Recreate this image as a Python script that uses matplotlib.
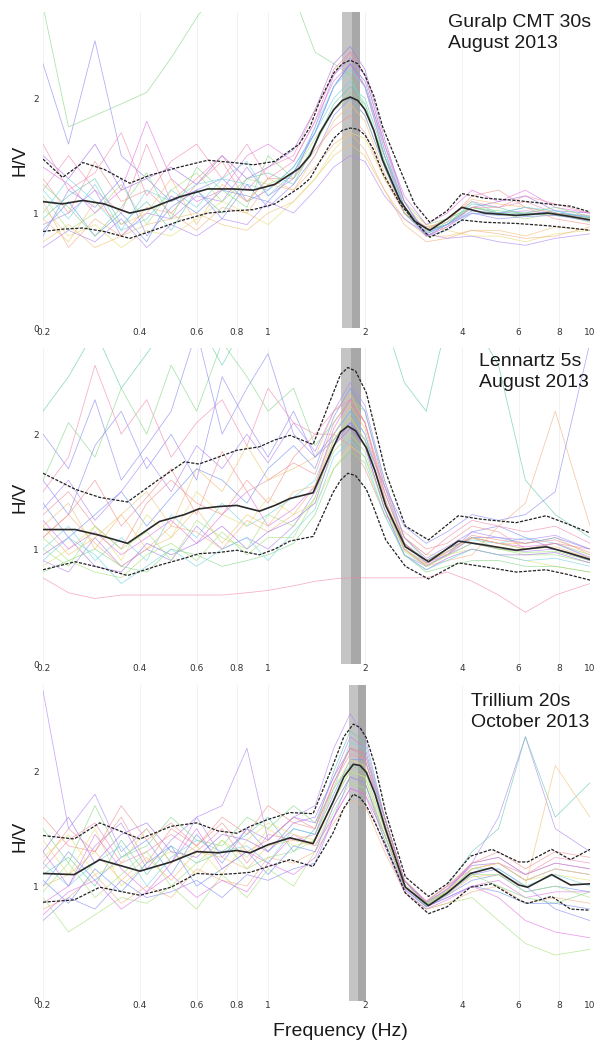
import numpy as np
import matplotlib
matplotlib.use('Agg')
import matplotlib.pyplot as plt

# common frequency grid of the single-window curves (Hz)
win_freq = [0.2, 0.24, 0.29, 0.35, 0.42, 0.5, 0.6, 0.72, 0.86, 1.0, 1.2, 1.4,
            1.6, 1.8, 2.0, 2.3, 2.65, 3.1, 3.6, 4.3, 5.2, 6.3, 7.8, 10.0]

# ---- Guralp CMT 30s ----
gur_freq = [0.2, 0.23, 0.266, 0.31, 0.372, 0.43, 0.53, 0.65, 0.78, 0.9, 1.05, 1.25, 1.35,
            1.45, 1.6, 1.7, 1.8, 1.9, 2.0, 2.13, 2.27, 2.57, 2.85, 3.18, 3.6, 4.0, 4.7, 5.9,
            7.4, 8.7, 10.0]
gur_mean = [1.10, 1.08, 1.11, 1.08, 1.00, 1.04, 1.14, 1.21, 1.21, 1.20, 1.25, 1.39, 1.50,
            1.70, 1.90, 1.98, 2.01, 1.98, 1.90, 1.72, 1.46, 1.11, 0.93, 0.85, 0.95, 1.05, 1.00,
            0.98, 1.00, 0.97, 0.94]
gur_upper = [1.47, 1.31, 1.44, 1.38, 1.26, 1.33, 1.40, 1.46, 1.44, 1.42, 1.45, 1.60, 1.75,
             1.98, 2.22, 2.30, 2.33, 2.30, 2.20, 2.02, 1.75, 1.38, 1.08, 0.92, 1.02, 1.17, 1.13,
             1.11, 1.08, 1.06, 1.01]
gur_lower = [0.84, 0.86, 0.87, 0.84, 0.78, 0.84, 0.93, 1.00, 1.02, 1.03, 1.08, 1.22, 1.30,
             1.45, 1.65, 1.72, 1.74, 1.73, 1.68, 1.55, 1.35, 1.08, 0.93, 0.79, 0.86, 0.94, 0.92,
             0.91, 0.89, 0.87, 0.85]
gur_windows = [
    [2.8, 1.75, 1.85, 1.95, 2.05, 2.35, 2.7, 3.0, 3.1, 3.1, 2.9, 2.4, 2.3, 2.2, 1.9, 1.5, 1.1, 0.9, 0.95, 1.05, 1.0, 1.0, 0.98, 0.95],
    [2.3, 1.6, 2.5, 1.5, 1.3, 1.1, 1.2, 1.3, 1.1, 1.2, 1.4, 1.7, 2.1, 2.3, 2.1, 1.5, 1.0, 0.8, 0.9, 1.05, 1.0, 1.05, 1.0, 0.95],
    [1.2, 1.5, 1.2, 1.0, 1.6, 1.1, 1.3, 1.5, 1.2, 1.4, 1.5, 1.9, 2.2, 2.4, 2.1, 1.5, 1.05, 0.85, 0.95, 1.1, 1.05, 1.1, 1.0, 0.98],
    [0.75, 0.9, 0.7, 0.8, 0.9, 0.95, 1.0, 0.9, 0.85, 1.0, 1.1, 1.3, 1.5, 1.6, 1.5, 1.2, 0.95, 0.8, 0.8, 0.85, 0.85, 0.8, 0.88, 0.85],
    [1.0, 1.3, 1.1, 0.85, 0.95, 1.2, 1.05, 1.3, 1.25, 1.2, 1.4, 1.7, 2.0, 2.15, 1.95, 1.45, 1.0, 0.82, 0.9, 1.1, 1.0, 0.98, 1.02, 0.95],
    [0.9, 1.0, 1.2, 0.8, 1.0, 0.95, 1.15, 1.1, 1.4, 1.15, 1.3, 1.75, 2.2, 2.35, 2.2, 1.6, 1.1, 0.8, 0.88, 1.02, 1.0, 1.02, 1.0, 0.96],
    [1.15, 0.85, 1.0, 1.25, 0.9, 1.2, 1.35, 1.1, 1.3, 1.25, 1.35, 1.65, 1.9, 2.0, 1.85, 1.4, 1.0, 0.86, 0.95, 1.05, 1.0, 0.95, 1.0, 0.92],
    [1.3, 1.0, 1.45, 1.1, 1.2, 1.0, 1.25, 1.45, 1.1, 1.3, 1.3, 1.55, 1.75, 1.85, 1.7, 1.3, 1.0, 0.88, 0.92, 1.15, 1.2, 1.05, 0.95, 0.9],
    [0.85, 1.1, 0.8, 1.0, 0.75, 1.15, 1.0, 1.2, 1.15, 1.1, 1.35, 1.7, 2.1, 2.3, 2.15, 1.55, 1.05, 0.8, 0.85, 1.0, 0.98, 1.0, 1.0, 0.97],
    [1.05, 0.8, 0.9, 0.7, 0.85, 0.8, 0.95, 1.1, 1.0, 0.9, 1.1, 1.3, 1.55, 1.7, 1.65, 1.3, 1.05, 0.9, 0.85, 0.8, 0.8, 0.75, 0.82, 0.85],
    [1.4, 1.25, 1.0, 1.2, 1.8, 1.3, 1.1, 1.2, 1.5, 1.6, 1.45, 1.8, 2.15, 2.3, 2.1, 1.6, 1.15, 0.9, 1.0, 1.2, 1.1, 1.2, 1.05, 1.0],
    [0.95, 1.15, 1.3, 0.9, 1.1, 0.85, 1.2, 1.0, 1.3, 1.35, 1.25, 1.6, 1.95, 2.1, 2.0, 1.5, 1.05, 0.85, 0.9, 1.08, 1.05, 0.98, 1.0, 0.96],
    [1.1, 0.7, 0.95, 0.8, 1.05, 1.0, 0.85, 1.05, 1.0, 1.25, 1.2, 1.4, 1.6, 1.7, 1.55, 1.2, 0.9, 0.75, 0.78, 0.85, 0.82, 0.78, 0.8, 0.88],
    [1.5, 1.3, 1.6, 1.2, 1.3, 1.4, 1.25, 1.5, 1.3, 1.4, 1.55, 1.9, 2.3, 2.45, 2.25, 1.65, 1.1, 0.82, 0.9, 1.05, 1.1, 1.15, 1.02, 1.0],
    [1.25, 1.05, 0.8, 1.05, 1.35, 0.95, 1.4, 1.2, 1.05, 1.5, 1.3, 1.6, 1.9, 2.05, 1.95, 1.45, 1.0, 0.83, 0.92, 1.05, 1.02, 1.0, 1.05, 0.97],
    [0.8, 1.2, 1.05, 1.3, 0.8, 1.05, 1.2, 0.95, 1.25, 1.05, 1.25, 1.5, 1.85, 2.0, 1.85, 1.4, 1.0, 0.84, 0.9, 1.0, 0.95, 0.97, 0.98, 0.93],
    [1.6, 1.2, 1.35, 1.7, 1.15, 1.45, 1.6, 1.3, 1.6, 1.3, 1.45, 1.8, 2.25, 2.4, 2.2, 1.6, 1.05, 0.8, 0.88, 1.05, 1.05, 1.15, 1.08, 1.0],
    [0.95, 0.75, 1.1, 0.9, 1.0, 1.3, 0.9, 1.25, 1.1, 1.3, 1.2, 1.5, 1.8, 1.95, 1.8, 1.35, 1.0, 0.86, 0.95, 1.12, 1.08, 1.05, 1.0, 0.95],
    [1.2, 0.95, 1.25, 0.85, 1.2, 1.1, 1.25, 1.3, 1.45, 1.15, 1.35, 1.75, 2.1, 2.25, 2.1, 1.55, 1.05, 0.82, 0.9, 1.02, 1.0, 1.05, 1.02, 0.96],
    [0.7, 0.85, 0.75, 0.95, 0.7, 0.9, 0.8, 0.95, 0.9, 1.1, 1.0, 1.2, 1.4, 1.5, 1.45, 1.15, 0.95, 0.82, 0.78, 0.8, 0.75, 0.72, 0.78, 0.82],
]
gur_band = [1.70, 1.82, 1.93]

# ---- Lennartz 5s ----
len_freq = [0.2, 0.252, 0.30, 0.366, 0.46, 0.55, 0.61, 0.70, 0.80, 0.94, 1.05, 1.17, 1.38,
            1.59, 1.68, 1.77, 1.87, 2.02, 2.15, 2.32, 2.67, 3.15, 3.9, 4.6, 5.9, 7.3, 8.5, 10.0]
len_mean = [1.17, 1.17, 1.12, 1.05, 1.24, 1.30, 1.35, 1.37, 1.38, 1.33, 1.38, 1.44, 1.49,
            1.88, 2.02, 2.07, 2.03, 1.88, 1.68, 1.38, 1.02, 0.89, 1.07, 1.04, 0.99, 1.02, 0.97, 0.91]
len_upper = [1.66, 1.52, 1.45, 1.41, 1.61, 1.76, 1.74, 1.80, 1.86, 1.89, 1.95, 1.99, 1.91,
             2.35, 2.52, 2.58, 2.55, 2.36, 2.05, 1.67, 1.20, 1.08, 1.29, 1.26, 1.23, 1.29, 1.22, 1.14]
len_lower = [0.82, 0.89, 0.84, 0.77, 0.86, 0.92, 0.96, 0.97, 0.99, 0.95, 1.00, 1.07, 1.11,
             1.49, 1.60, 1.66, 1.64, 1.52, 1.33, 1.08, 0.85, 0.74, 0.88, 0.85, 0.80, 0.82, 0.78, 0.73]
len_windows = [
    [1.6, 2.1, 1.8, 2.4, 2.0, 2.6, 2.2, 2.8, 2.5, 2.2, 2.4, 1.9, 2.1, 2.3, 2.2, 1.6, 1.1, 0.9, 1.0, 1.1, 1.05, 1.0, 1.05, 0.95],
    [2.0, 1.7, 2.3, 1.6, 1.9, 2.2, 2.9, 2.0, 2.4, 2.7, 2.0, 1.8, 2.0, 2.2, 2.0, 1.5, 1.05, 0.88, 0.95, 1.15, 1.2, 1.1, 1.0, 0.9],
    [0.75, 0.62, 0.57, 0.6, 0.6, 0.6, 0.6, 0.6, 0.62, 0.64, 0.68, 0.72, 0.74, 0.75, 0.75, 0.75, 0.75, 0.75, 0.8, 0.72, 0.6, 0.45, 0.6, 0.7],
    [1.2, 1.4, 1.0, 1.3, 1.5, 1.2, 1.7, 1.5, 1.9, 1.6, 1.7, 1.8, 2.2, 2.35, 2.1, 1.5, 1.05, 0.9, 1.0, 1.1, 1.05, 1.05, 1.1, 0.95],
    [1.0, 1.2, 0.9, 1.1, 0.9, 1.3, 1.1, 1.4, 1.2, 1.3, 1.45, 1.6, 2.0, 2.2, 2.0, 1.4, 1.0, 0.88, 0.98, 1.08, 1.05, 1.1, 1.05, 0.92],
    [0.9, 0.8, 1.1, 0.85, 1.0, 0.9, 1.2, 1.0, 1.1, 1.0, 1.2, 1.5, 1.9, 2.1, 1.9, 1.35, 0.95, 0.85, 0.95, 1.05, 1.0, 0.98, 1.0, 0.9],
    [1.1, 0.9, 0.8, 0.75, 0.95, 1.05, 0.9, 1.15, 0.95, 1.1, 1.1, 1.45, 1.85, 2.0, 1.85, 1.35, 1.0, 0.85, 0.95, 1.1, 1.0, 0.95, 0.95, 0.88],
    [1.3, 1.5, 1.2, 1.0, 1.4, 1.6, 1.4, 1.3, 1.6, 1.4, 1.8, 2.0, 2.0, 1.9, 1.7, 1.3, 1.15, 1.0, 1.05, 1.2, 1.15, 1.0, 1.05, 1.0],
    [1.4, 1.1, 1.3, 1.5, 1.2, 1.45, 1.7, 1.6, 1.4, 1.7, 1.9, 1.7, 2.15, 2.4, 2.2, 1.55, 1.05, 0.9, 1.0, 1.1, 1.1, 1.05, 1.1, 1.0],
    [0.85, 1.0, 1.2, 0.9, 1.3, 1.1, 1.5, 1.3, 1.2, 1.45, 1.3, 1.4, 1.7, 1.9, 1.8, 1.4, 1.1, 0.95, 0.95, 1.0, 0.95, 0.9, 0.85, 0.8],
    [1.25, 1.0, 1.15, 0.95, 1.1, 1.25, 1.05, 1.3, 1.5, 1.2, 1.35, 1.55, 2.05, 2.3, 2.1, 1.45, 1.0, 0.86, 0.95, 1.1, 1.05, 1.02, 1.05, 0.93],
    [2.2, 2.5, 2.9, 2.4, 2.7, 3.0, 3.0, 2.6, 3.0, 3.0, 3.0, 3.0, 3.0, 3.0, 3.0, 3.0, 2.45, 2.2, 3.0, 3.0, 2.6, 1.6, 1.3, 1.1],
    [1.1, 1.3, 1.05, 0.85, 1.0, 1.2, 1.15, 1.0, 1.25, 1.15, 1.3, 1.55, 1.95, 2.15, 1.95, 1.4, 1.0, 0.85, 0.9, 0.95, 1.2, 1.4, 2.2, 1.2],
    [0.95, 1.1, 0.85, 0.8, 1.05, 0.95, 1.05, 1.2, 1.0, 1.15, 1.25, 1.4, 1.9, 2.05, 1.9, 1.35, 0.95, 0.82, 0.92, 1.0, 0.95, 0.95, 0.97, 0.88],
    [0.8, 0.9, 1.0, 0.85, 0.8, 1.0, 0.95, 0.85, 0.9, 0.95, 1.05, 1.3, 1.7, 1.85, 1.75, 1.3, 0.95, 0.8, 0.85, 0.9, 0.9, 0.85, 0.85, 0.8],
    [1.6, 1.3, 1.9, 2.2, 1.7, 2.0, 1.6, 2.5, 2.1, 1.8, 2.2, 1.8, 1.95, 2.1, 1.95, 1.55, 1.2, 1.05, 1.15, 1.3, 1.25, 1.3, 1.5, 2.8],
    [1.5, 1.8, 2.6, 2.0, 2.3, 1.8, 2.1, 2.3, 1.9, 2.4, 2.1, 2.0, 2.2, 2.3, 2.1, 1.55, 1.1, 0.95, 1.1, 1.25, 1.2, 1.15, 1.2, 1.05],
    [1.2, 0.95, 1.1, 1.3, 1.0, 1.1, 1.35, 1.05, 1.3, 1.2, 1.5, 1.55, 2.0, 2.25, 2.05, 1.45, 1.0, 0.87, 0.98, 1.1, 1.05, 1.0, 1.02, 0.92],
    [0.9, 1.1, 0.95, 0.7, 0.85, 1.0, 0.85, 1.0, 1.1, 0.9, 1.15, 1.35, 1.8, 1.95, 1.8, 1.3, 0.95, 0.82, 0.9, 1.0, 0.95, 0.9, 0.92, 0.85],
    [1.35, 1.6, 1.25, 1.5, 1.8, 1.5, 1.9, 1.7, 2.0, 1.75, 2.1, 1.85, 2.2, 2.45, 2.25, 1.6, 1.1, 0.92, 1.02, 1.15, 1.1, 1.08, 1.12, 1.0],
    [1.0, 0.85, 1.2, 1.0, 1.15, 0.9, 1.25, 1.1, 1.0, 1.3, 1.2, 1.45, 1.95, 2.15, 1.95, 1.4, 0.98, 0.85, 0.94, 1.05, 1.0, 0.97, 0.98, 0.9],
    [1.1, 1.3, 1.6, 1.2, 1.45, 1.7, 1.3, 1.85, 1.5, 1.6, 1.75, 1.65, 2.1, 2.3, 2.1, 1.5, 1.05, 0.88, 0.97, 1.12, 1.08, 1.05, 1.08, 0.97],
]
len_band = [1.68, 1.81, 1.94]

# ---- Trillium 20s ----
tri_freq = [0.2, 0.25, 0.30, 0.4, 0.5, 0.6, 0.7, 0.8, 0.88, 1.0, 1.17, 1.38, 1.59, 1.72, 1.84,
            1.93, 2.02, 2.15, 2.32, 2.67, 3.15, 3.6, 4.25, 4.96, 6.0, 6.4, 7.6, 8.7, 10.0]
tri_mean = [1.11, 1.10, 1.23, 1.13, 1.21, 1.30, 1.29, 1.31, 1.29, 1.36, 1.42, 1.37, 1.73, 1.95,
            2.06, 2.05, 1.99, 1.80, 1.49, 0.99, 0.83, 0.94, 1.11, 1.16, 1.01, 0.99, 1.10, 1.01, 1.02]
tri_upper = [1.44, 1.41, 1.55, 1.41, 1.52, 1.55, 1.48, 1.46, 1.52, 1.58, 1.64, 1.63, 2.05, 2.30,
             2.41, 2.38, 2.29, 2.05, 1.64, 1.08, 0.91, 1.02, 1.26, 1.32, 1.21, 1.21, 1.32, 1.23, 1.32]
tri_lower = [0.86, 0.88, 0.99, 0.92, 0.99, 1.11, 1.10, 1.11, 1.12, 1.17, 1.23, 1.17, 1.46, 1.68,
             1.80, 1.77, 1.70, 1.55, 1.35, 0.94, 0.76, 0.82, 0.99, 1.02, 0.88, 0.85, 0.91, 0.80, 0.79]
tri_windows = [
    [2.7, 1.5, 1.8, 1.3, 1.5, 1.2, 1.6, 1.7, 2.2, 1.4, 1.6, 1.7, 2.2, 2.5, 2.3, 1.6, 1.05, 0.85, 0.95, 1.2, 1.6, 2.3, 1.5, 1.3],
    [0.9, 0.6, 0.75, 0.9, 0.85, 1.0, 0.8, 1.1, 0.9, 1.15, 1.0, 1.3, 1.65, 1.9, 1.85, 1.4, 0.95, 0.8, 0.85, 0.9, 0.7, 0.5, 0.4, 0.45],
    [1.2, 1.5, 1.3, 1.6, 1.2, 1.5, 1.35, 1.55, 1.3, 1.4, 1.6, 1.5, 1.9, 2.2, 2.1, 1.55, 1.0, 0.85, 0.98, 1.2, 1.25, 1.1, 1.2, 1.15],
    [1.0, 1.3, 1.05, 1.25, 1.4, 1.1, 1.45, 1.2, 1.5, 1.3, 1.5, 1.45, 1.8, 2.1, 2.1, 1.6, 1.05, 0.82, 0.92, 1.05, 1.1, 0.95, 1.0, 0.95],
    [1.4, 1.1, 1.5, 1.0, 1.2, 1.3, 1.1, 1.4, 1.25, 1.5, 1.35, 1.4, 1.75, 2.0, 1.95, 1.5, 1.0, 0.84, 0.95, 1.15, 1.2, 1.05, 1.1, 1.05],
    [0.85, 1.0, 1.45, 1.15, 0.95, 1.2, 1.5, 1.15, 1.3, 1.2, 1.45, 1.35, 1.6, 1.85, 1.8, 1.45, 0.98, 0.82, 0.9, 1.0, 1.05, 0.9, 0.95, 0.95],
    [1.1, 1.25, 1.0, 1.4, 1.1, 1.35, 1.2, 1.3, 1.45, 1.6, 1.3, 1.5, 2.0, 2.35, 2.25, 1.6, 1.05, 0.86, 1.0, 1.3, 1.5, 2.3, 1.6, 1.9],
    [0.8, 0.9, 1.1, 0.85, 1.0, 0.9, 1.15, 1.05, 1.0, 1.25, 1.2, 1.3, 1.55, 1.75, 1.7, 1.3, 0.95, 0.8, 0.85, 0.95, 1.0, 0.85, 0.9, 0.85],
    [1.3, 1.6, 1.2, 1.45, 1.55, 1.3, 1.25, 1.45, 1.4, 1.3, 1.55, 1.6, 1.95, 2.2, 2.15, 1.6, 1.05, 0.85, 0.97, 1.18, 1.2, 1.05, 1.15, 1.1],
    [1.5, 1.2, 1.7, 1.25, 1.35, 1.6, 1.4, 1.35, 1.6, 1.5, 1.7, 1.55, 1.85, 2.05, 2.0, 1.5, 1.0, 0.85, 0.95, 1.1, 1.0, 0.9, 0.85, 0.95],
    [0.7, 0.9, 0.8, 1.05, 0.9, 0.95, 1.05, 0.9, 1.1, 1.05, 1.15, 1.2, 1.6, 1.95, 1.9, 1.45, 1.0, 0.84, 0.93, 1.1, 1.15, 1.0, 0.8, 0.7],
    [1.15, 1.4, 1.55, 1.2, 1.3, 1.45, 1.3, 1.5, 1.2, 1.45, 1.4, 1.45, 1.9, 2.15, 2.1, 1.55, 1.05, 0.87, 1.0, 1.15, 1.2, 1.1, 1.25, 1.2],
    [1.0, 1.1, 1.3, 1.05, 1.25, 1.05, 1.3, 1.25, 1.15, 1.35, 1.4, 1.35, 1.7, 1.95, 1.9, 1.45, 1.0, 0.83, 0.92, 1.08, 1.1, 1.0, 2.05, 1.6],
    [1.2, 1.0, 1.2, 1.35, 1.0, 1.25, 1.4, 1.3, 1.35, 1.2, 1.5, 1.45, 1.85, 2.25, 2.2, 1.55, 1.0, 0.82, 0.93, 1.15, 1.15, 1.0, 1.1, 1.0],
    [1.3, 1.0, 1.35, 1.55, 1.15, 1.4, 1.6, 1.25, 1.5, 1.4, 1.6, 1.55, 1.95, 2.3, 2.2, 1.6, 1.05, 0.86, 0.97, 1.2, 1.25, 1.1, 1.2, 1.15],
    [0.95, 1.2, 0.9, 1.1, 1.3, 1.0, 1.2, 1.4, 1.15, 1.25, 1.3, 1.4, 1.75, 2.0, 1.95, 1.45, 1.0, 0.83, 0.95, 1.1, 1.1, 0.95, 1.0, 0.9],
    [1.6, 1.35, 1.3, 1.7, 1.4, 1.55, 1.35, 1.6, 1.45, 1.7, 1.55, 1.5, 1.9, 2.2, 2.15, 1.6, 1.05, 0.87, 1.0, 1.2, 1.3, 1.15, 1.3, 1.25],
    [1.05, 0.85, 1.15, 0.95, 1.2, 1.35, 1.0, 1.15, 1.3, 1.1, 1.35, 1.3, 1.7, 1.95, 1.9, 1.4, 0.97, 0.82, 0.9, 1.0, 0.95, 0.85, 0.85, 0.8],
    [1.25, 1.45, 1.1, 1.2, 1.5, 1.2, 1.35, 1.1, 1.4, 1.55, 1.45, 1.4, 1.85, 2.1, 2.05, 1.55, 1.02, 0.85, 0.96, 1.15, 1.2, 1.05, 1.15, 1.1],
    [0.75, 0.95, 1.05, 0.8, 0.95, 1.1, 0.9, 1.05, 0.95, 1.2, 1.1, 1.25, 1.6, 1.85, 1.8, 1.35, 0.95, 0.8, 0.88, 1.0, 0.9, 0.7, 0.6, 0.55],
]
tri_band = [1.78, 1.90, 2.02]

titles = ['Guralp CMT 30s\nAugust 2013', 'Lennartz 5s\nAugust 2013', 'Trillium 20s\nOctober 2013']
xticks = [0.2, 0.4, 0.6, 0.8, 1, 2, 4, 6, 8, 10]
xticklabels = ['0.2', '0.4', '0.6', '0.8', '1', '2', '4', '6', '8', '10']
yticks = [0, 1, 2]

# pastel rainbow used for the individual windows
palette = ['#86d886', '#8c8cf2', '#f28cb4', '#f2c276', '#74d6e2', '#b286f2', '#a6e27e',
           '#f29494', '#7494f2', '#e6de72', '#e276e2', '#64cab2', '#f2b284', '#a474e2']

W, H = 600, 1042


def px(x, y):
    # figure pixel (from top-left) -> figure fraction
    return x / W, 1 - y / H


def DrawPanel(ax, freq, mean, upper, lower, windows, band, offset):
    for i, w in enumerate(windows):
        c = palette[(i + offset) % len(palette)]
        ax.plot(win_freq, w, color=c, lw=0.55, alpha=0.72, zorder=2)

    ax.axvspan(band[0], band[1], color='#c4c4c4', lw=0, zorder=1)
    ax.axvspan(band[1], band[2], color='#a8a8a8', lw=0, zorder=1)

    ax.plot(freq, upper, color='#222222', lw=0.9, ls=(0, (2.5, 1.2)), zorder=4)
    ax.plot(freq, lower, color='#222222', lw=0.9, ls=(0, (2.5, 1.2)), zorder=4)
    ax.plot(freq, mean, color='#2a2a2a', lw=1.2, zorder=4)

    ax.set_xscale('log')
    ax.set_xlim(0.2, 10)
    ax.set_ylim(0, 2.75)
    ax.set_xticks(xticks)
    ax.set_xticklabels(xticklabels)
    ax.minorticks_off()
    ax.set_yticks(yticks)
    ax.tick_params(length=0, labelsize=6.5, labelcolor='#333333')
    ax.tick_params(axis='x', pad=0)
    ax.tick_params(axis='y', pad=3)
    for s in ax.spines.values():
        s.set_visible(False)
    ax.grid(axis='x', color='#f0f0f0', lw=0.6, zorder=0)
    ax.set_axisbelow(True)


def main():
    fig = plt.figure(figsize=(6, 10.42), dpi=100)
    fig.patch.set_facecolor('white')

    panels = [
        (gur_freq, gur_mean, gur_upper, gur_lower, gur_windows, gur_band, 0),
        (len_freq, len_mean, len_upper, len_lower, len_windows, len_band, 0),
        (tri_freq, tri_mean, tri_upper, tri_lower, tri_windows, tri_band, 5),
    ]
    tops = [12, 348, 685]
    title_x = [448, 479, 471]
    title_y = [14, 353, 693]
    label_y = [160, 497, 836]

    for i, p in enumerate(panels):
        left, top = px(43, tops[i])
        ax = fig.add_axes([left, top - 316 / H, 547 / W, 316 / H])
        DrawPanel(ax, *p)
        tx, ty = px(title_x[i], title_y[i])
        fig.text(tx, ty, titles[i], ha='left', va='top', fontsize=14,
                 family='Liberation Sans', color='#1a1a1a', linespacing=1.3)
        lx, ly = px(20, label_y[i])
        fig.text(lx, ly, 'H/V', rotation=90, ha='center', va='center', fontsize=13.5,
                 family='Liberation Sans', color='#1a1a1a')

    fx, fy = px(340, 1032)
    fig.text(fx, fy, 'Frequency (Hz)', ha='center', va='center', fontsize=14,
             family='Liberation Sans', color='#1a1a1a')

    fig.savefig('out.png', dpi=100, facecolor='white')


if __name__ == '__main__':
    main()
